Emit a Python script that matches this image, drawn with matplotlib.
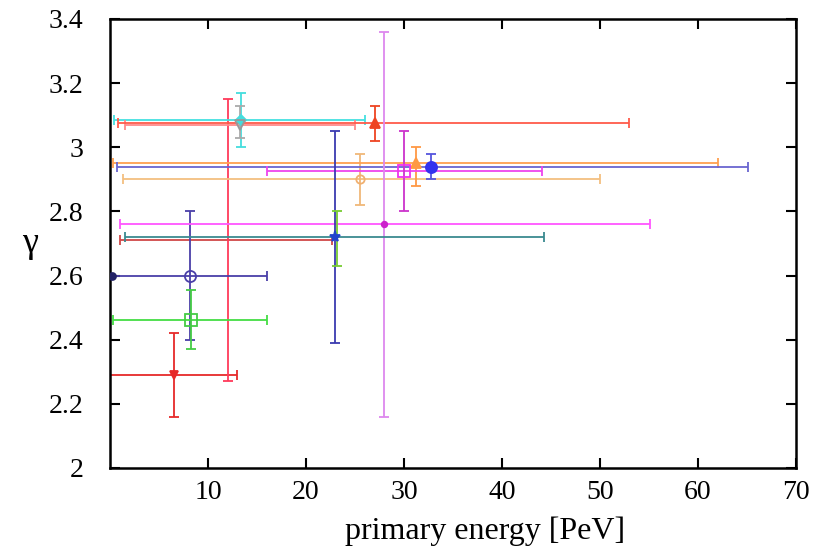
import numpy as np
import matplotlib
matplotlib.use("Agg")
import matplotlib.pyplot as plt

# ---- data ----
px    = [6.5, 12.0, 8.2, 8.3, 13.4, 13.3, 27.0, 25.5, 31.2, 32.8, 30.0, 28.0, 23.0, 23.2, 0.2]
py    = [2.29, 2.71, 2.60, 2.46, 3.085, 3.07, 3.075, 2.90, 2.95, 2.94, 2.925, 2.76, 2.72, 2.72, 2.60]
x_lo  = [0.0, 1.0, 0.0, 0.3, 0.4, 1.5, 0.8, 1.3, 0.3, 0.7, 16.0, 1.0, 1.5, np.nan, np.nan]
x_hi  = [13.0, 22.7, 16.0, 16.0, 26.0, 25.0, 53.0, 50.0, 62.0, 65.1, 44.1, 55.1, 44.3, np.nan, np.nan]
y_lo  = [2.16, 2.27, 2.40, 2.37, 3.00, 3.03, 3.02, 2.82, 2.88, 2.90, 2.80, 2.16, 2.39, 2.63, np.nan]
y_hi  = [2.42, 3.15, 2.80, 2.555, 3.17, 3.13, 3.13, 2.98, 3.00, 2.98, 3.05, 3.36, 3.05, 2.80, np.nan]

xticks = [10, 20, 30, 40, 50, 60, 70]
yticks = [2.0, 2.2, 2.4, 2.6, 2.8, 3.0, 3.2, 3.4]
ytick_labels = ["2", "2.2", "2.4", "2.6", "2.8", "3", "3.2", "3.4"]

# ---- styles ----
xcolors = ['#e62a2a', '#d04848', '#4a3fa8', '#44dd44', '#44e0e0', '#ff8a8a', '#ff5a4a',
           '#f3bf80', '#ffa050', '#6a66d0', '#ee44ee', '#ff55ff', '#3a8a90', '#66cc44', '#222266']
ycolors = ['#e62a2a', '#ff3a5a', '#4a3fa8', '#44cc44', '#44dddd', '#aaaaaa', '#ee4422',
           '#f0b878', '#ff9944', '#5555dd', '#cc33cc', '#dd88ee', '#3a3ab0', '#77cc33', '#222266']
markers = ['v', None, 'o', 's', 'D', 'v', '^', 'o', '^', 'o', 's', 'o', '*', None, 'o']
mfill   = [True, True, False, False, True, False, True, False, True, True, False, True, True, True, True]
msizes  = [6, 0, 8, 8, 5, 7, 7, 6, 7, 8, 8, 4, 8, 0, 5]
mcolors = ['#e62a2a', '#ff3a5a', '#4a3fa8', '#44cc44', '#44dddd', '#999999', '#ee4422',
           '#f0b070', '#ff9944', '#3333ee', '#ee33ee', '#cc22cc', '#2244cc', '#77cc33', '#222266']

plt.rcParams['font.family'] = ['Liberation Serif', 'DejaVu Serif']

fig = plt.figure(figsize=(8.14, 5.5), dpi=100)
ax = fig.add_axes([0.1351, 0.1491, 0.9779 - 0.1351, 0.9655 - 0.1491])

for i in range(len(px)):
    if not np.isnan(x_lo[i]):
        ax.errorbar([px[i]], [py[i]],
                    xerr=[[px[i] - x_lo[i]], [x_hi[i] - px[i]]],
                    fmt='none', ecolor=xcolors[i], elinewidth=1.3, capsize=3.5, capthick=1.3)
    if not np.isnan(y_lo[i]):
        ax.errorbar([px[i]], [py[i]],
                    yerr=[[py[i] - y_lo[i]], [y_hi[i] - py[i]]],
                    fmt='none', ecolor=ycolors[i], elinewidth=1.3, capsize=3.5, capthick=1.3)
for i in range(len(px)):
    if markers[i] is not None:
        ax.plot([px[i]], [py[i]], linestyle='none', marker=markers[i], markersize=msizes[i],
                markeredgecolor=mcolors[i],
                markerfacecolor=mcolors[i] if mfill[i] else 'none',
                markeredgewidth=1.3, zorder=5, clip_on=True)

ax.set_xlim(0, 70)
ax.set_ylim(2.0, 3.4)
ax.set_xticks(xticks)
ax.set_xticklabels([str(t) for t in xticks])
ax.set_yticks(yticks)
ax.set_yticklabels(ytick_labels)
ax.tick_params(direction='in', top=True, right=True, length=7, width=1.5,
               labelsize=20)
ax.tick_params(axis='x', pad=9)
ax.tick_params(axis='y', pad=19)
for s in ax.spines.values():
    s.set_linewidth(1.8)
ax.set_xlabel('primary energy [PeV]', fontsize=23, va='center')
ax.xaxis.set_label_coords(0.547, -0.14)
ax.set_ylabel('γ', fontsize=26, rotation=0, va='center')
ax.yaxis.set_label_coords(-0.117, 0.5)

fig.savefig('out.png', dpi=100)
